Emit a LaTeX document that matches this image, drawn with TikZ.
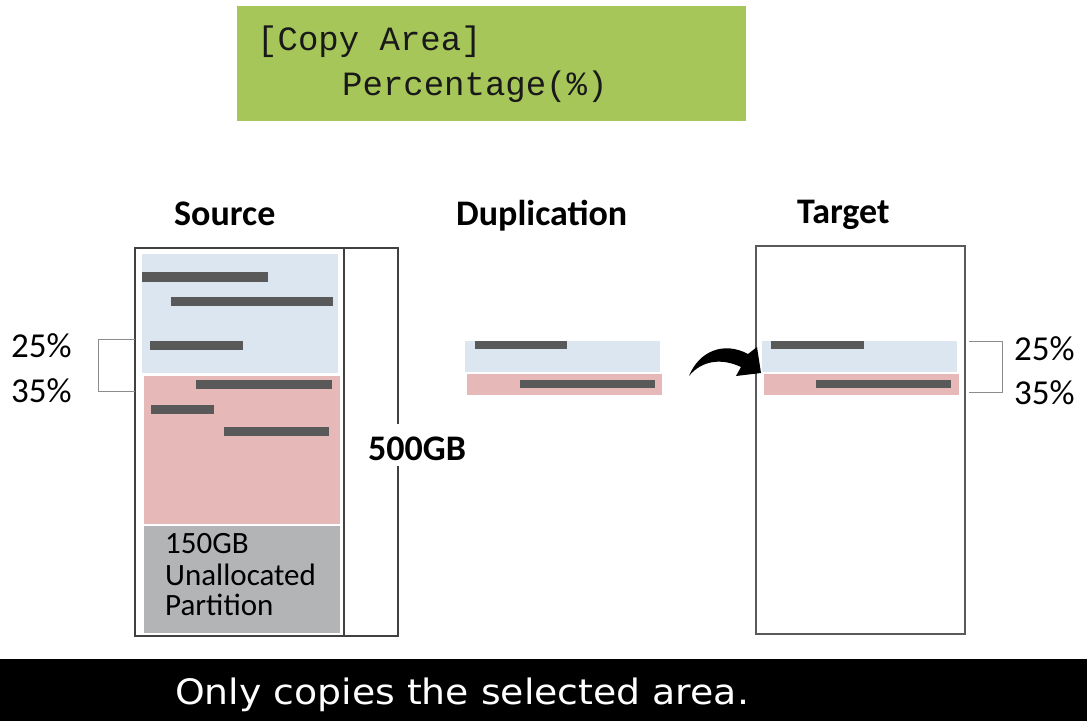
\documentclass[tikz,border=0pt]{standalone}
\usepackage{fontspec}
\setmainfont{Carlito}
\newfontfamily\lcdfont{Liberation Mono}
\newfontfamily\capfont[FakeStretch=1.08]{DejaVu Sans}
\definecolor{lcdgreen}{HTML}{A6C65A}
\definecolor{partblue}{HTML}{DCE6F1}
\definecolor{partred}{HTML}{E6B8B7}
\definecolor{partgray}{HTML}{B3B4B6}
\definecolor{bardark}{HTML}{595959}
\definecolor{boxline}{HTML}{404040}
\definecolor{brackline}{HTML}{8C8C8C}
\tikzset{
  bar/.style={fill=bardark},
  diskbox/.style={draw=boxline, line width=1.2pt},
  bracket/.style={draw=brackline, line width=1pt},
  txt/.style={anchor=base west, inner sep=0pt},
  header/.style={txt, font=\fontsize{36}{40}\selectfont\bfseries},
  pct/.style={txt, font=\fontsize{35}{40}\selectfont},
  lcd/.style={txt, font=\lcdfont\fontsize{34}{38}\selectfont, text=black!90},
}
\begin{document}
\begin{tikzpicture}[x=1pt,y=-1pt]
\useasboundingbox (0,0) rectangle (1087,721);
\fill[white] (0,0) rectangle (1087,721);

% LCD panel
\fill[lcdgreen] (237,6) rectangle (746,121);
\node[lcd] (l1) at (257,50) {[Copy Area]};
\node[lcd] (l2) at (342,95) {Percentage(\%)};

% headers
\node[header] (hs) at (174,225) {Source};
\node[header] (hd) at (456,225) {Duplication};
\node[header] (ht) at (797,223) {Target};

% Source disk
\fill[partblue] (142,254) rectangle (338,373);
\fill[partred] (144,376) rectangle (340,524);
\fill[partgray] (144,526) rectangle (340,633);
\fill[bar] (142,272) rectangle (268,282);
\fill[bar] (171,297) rectangle (333,306);
\fill[bar] (150,341) rectangle (243,350);
\fill[bar] (196,380) rectangle (332,389);
\fill[bar] (151,405) rectangle (214,414);
\fill[bar] (224,427) rectangle (329,436);
\draw[diskbox] (135,248) rectangle (398,636);
\draw[diskbox] (344,248) -- (344,636);
\fill[white] (390,424) rectangle (405,466);
\node[txt, font=\fontsize{36}{40}\selectfont\bfseries] (gb) at (368,460) {500GB};

\node[txt, font=\fontsize{31}{31}\selectfont] (u1) at (165,553) {150GB};
\node[txt, font=\fontsize{31}{31}\selectfont] (u2) at (165,585) {Unallocated};
\node[txt, font=\fontsize{31}{31}\selectfont] (u3) at (165,615) {Partition};

% left bracket
\draw[bracket] (135,339) -- (98,339) -- (98,391) -- (135,391);
\node[pct] (p1) at (11,357) {25\%};
\node[pct] (p2) at (11,402) {35\%};

% Duplication strips
\fill[partblue] (465,341) rectangle (660,372);
\fill[partred] (467,374) rectangle (662,395);
\fill[bar] (475,341) rectangle (567,349);
\fill[bar] (520,380) rectangle (655,388);

% Target disk
\fill[partblue] (762,341) rectangle (957,372);
\fill[partred] (764,374) rectangle (959,395);
\fill[bar] (771,341) rectangle (864,349);
\fill[bar] (816,380) rectangle (951,388);
\draw[diskbox, draw=bardark] (756,246) rectangle (965,634);

% right bracket
\draw[bracket] (969,341) -- (1002,341) -- (1002,392) -- (969,392);
\node[pct] (p3) at (1014,360) {25\%};
\node[pct] (p4) at (1014,404) {35\%};

% curved arrow
\fill[black] (689,376) .. controls (699,351) and (724,341) .. (748,354)
  -- (757,347) -- (761,373) -- (736,376) -- (741,367)
  .. controls (722,358) and (702,360) .. cycle;

% caption band
\fill[black] (0,659) rectangle (1087,721);
\node[txt, font=\capfont\fontsize{35}{40}\selectfont, text=white] (cap) at (175,704) {Only copies the selected area.};
\end{tikzpicture}
\end{document}
